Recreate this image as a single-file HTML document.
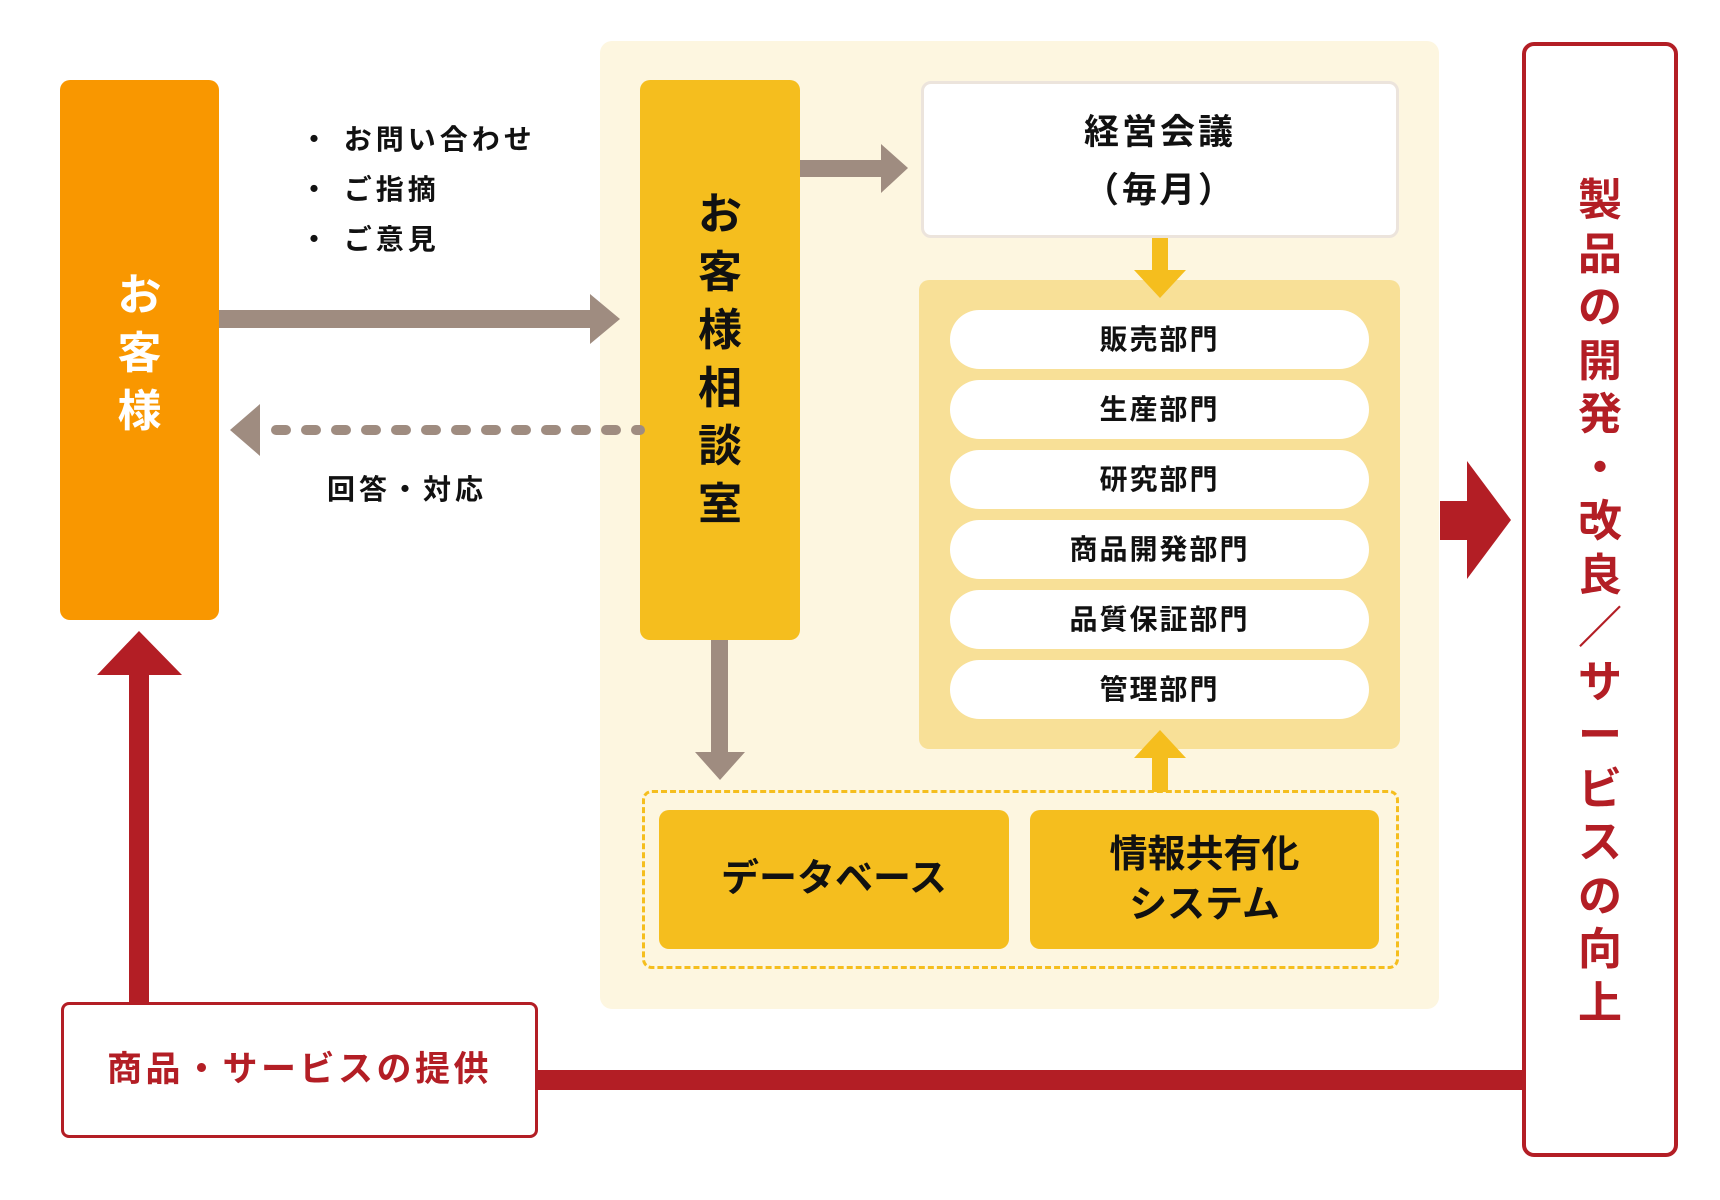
<!DOCTYPE html>
<html><head><meta charset="utf-8"><style>
body{margin:0;width:1720px;height:1200px;background:#fff;position:relative;overflow:hidden;font-family:"Liberation Sans","Noto Sans CJK JP",sans-serif;font-weight:bold}
.a{position:absolute;box-sizing:border-box}
.vt{display:flex;flex-direction:column;align-items:center;justify-content:center;line-height:1.32}
.pill{position:absolute;left:950px;width:419px;height:59px;background:#fff;border-radius:30px;font-size:28px;color:#111;text-align:center;line-height:59px;letter-spacing:2px}
</style></head><body>
<div class="a" style="left:600px;top:41px;width:839px;height:968px;background:#fdf6e0;border-radius:12px"></div>
<div class="a vt" style="left:60px;top:80px;width:159px;height:540px;background:#f99700;border-radius:10px;color:#fff;font-size:44px">
<div style="margin-top:8px">お</div><div>客</div><div>様</div></div>
<div class="a" style="left:300px;top:115px;font-size:28px;line-height:50px;color:#111;letter-spacing:4px">・ お問い合わせ<br>・ ご指摘<br>・ ご意見</div>
<div class="a" style="left:327px;top:468px;font-size:28px;color:#111;letter-spacing:4px">回答・対応</div>
<div class="a vt" style="left:640px;top:80px;width:160px;height:560px;background:#f5be1e;border-radius:10px;color:#111;font-size:44px;line-height:1.32;justify-content:flex-start;padding-top:106px">
<div>お</div><div>客</div><div>様</div><div>相</div><div>談</div><div>室</div></div>
<div class="a" style="left:921px;top:81px;width:478px;height:157px;background:#fff;border:3px solid #ece4dc;border-radius:10px;text-align:center;font-size:35px;color:#111;line-height:58px;padding-top:20px;letter-spacing:3px">経営会議<br>（毎月）</div>
<div class="a" style="left:919px;top:280px;width:481px;height:469px;background:#f8e097;border-radius:10px"></div>
<div class="pill" style="top:310px">販売部門</div>
<div class="pill" style="top:380px">生産部門</div>
<div class="pill" style="top:450px">研究部門</div>
<div class="pill" style="top:520px">商品開発部門</div>
<div class="pill" style="top:590px">品質保証部門</div>
<div class="pill" style="top:660px">管理部門</div>
<div class="a" style="left:642px;top:790px;width:757px;height:179px;border:3px dashed #f5be1e;border-radius:10px"></div>
<div class="a" style="left:659px;top:810px;width:350px;height:139px;background:#f5be1e;border-radius:10px;font-size:38px;color:#111;text-align:center;line-height:139px">データベース</div>
<div class="a" style="left:1030px;top:810px;width:349px;height:139px;background:#f5be1e;border-radius:10px;font-size:38px;color:#111;text-align:center;line-height:50px;padding-top:20px">情報共有化<br>システム</div>
<div class="a vt" style="left:1522px;top:42px;width:156px;height:1115px;border:4px solid #b31e25;border-radius:12px;color:#b31e25;font-size:44px;line-height:53.5px;justify-content:flex-start;padding-top:128px">
<div>製</div><div>品</div><div>の</div><div>開</div><div>発</div><div>・</div><div>改</div><div>良</div><div>／</div><div>サ</div><div>ー</div><div>ビ</div><div>ス</div><div>の</div><div>向</div><div>上</div></div>
<div class="a" style="left:61px;top:1002px;width:477px;height:136px;border:3px solid #b31e25;border-radius:8px;color:#b31e25;font-size:35px;text-align:center;line-height:130px;letter-spacing:3.5px">商品・サービスの提供</div>
<svg class="a" style="left:0;top:0" width="1720" height="1200">
<g fill="#9f8c80">
<rect x="219" y="310" width="373" height="18"/><polygon points="590,294 620,319 590,344"/>
<polygon points="230,430 260,404 260,456"/>
<rect x="800" y="160" width="83" height="17"/><polygon points="881,144 908,168 881,193"/>
<rect x="711" y="640" width="17" height="114"/><polygon points="695,752 745,752 720,780"/>
</g>
<line x1="276" y1="430" x2="640" y2="430" stroke="#9f8c80" stroke-width="10" stroke-linecap="round" stroke-dasharray="10,20"/>
<g fill="#f5be1e">
<rect x="1152" y="238" width="16" height="34"/><polygon points="1134,270 1186,270 1160,298"/>
<rect x="1152" y="756" width="16" height="36"/><polygon points="1134,758 1186,758 1160,730"/>
</g>
<g fill="#b31e25">
<rect x="538" y="1070" width="986" height="20"/>
<rect x="129" y="672" width="20" height="332"/><polygon points="97,675 182,675 139,631"/>
<rect x="1440" y="501" width="30" height="39"/><polygon points="1467,461 1511,520 1467,579"/>
</g>
</svg>
</body></html>
